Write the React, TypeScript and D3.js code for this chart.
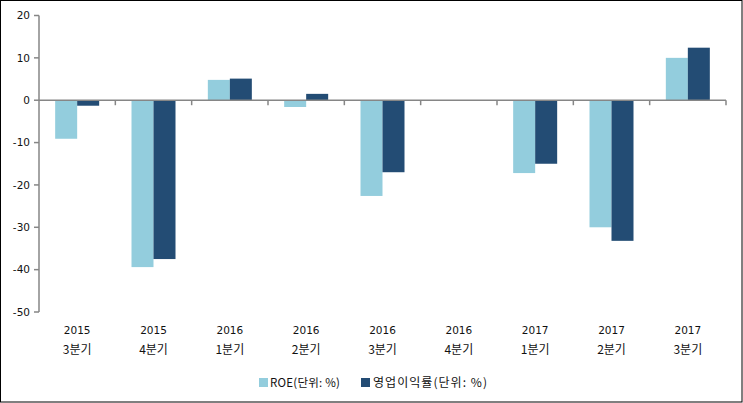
import React from "react";
import * as d3 from "d3";

const years = ["2015", "2015", "2016", "2016", "2016", "2016", "2017", "2017", "2017"];
const quarters = ["3분기", "4분기", "1분기", "2분기", "3분기", "4분기", "1분기", "2분기", "3분기"];
const roe = [-9.1, -39.4, 4.8, -1.6, -22.6, 0, -17.2, -30.0, 10.0];
const opMargin = [-1.3, -37.5, 5.1, 1.5, -17.0, 0, -15.0, -33.2, 12.4];
const yTicks = [20, 10, 0, -10, -20, -30, -40, -50];
const seriesNames = ["ROE(단위: %)", "영업이익률(단위: %)"];
const colors = ["#93CDDD", "#234C74"];

const W = 743;
const H = 403;
const left = 39;
const right = 726;
const top = 15.5;
const bottom = 312;

export default function App() {
  const cats = years.map((_, i) => String(i));
  const x = d3.scaleBand<string>().domain(cats).range([left, right]).paddingInner(0).paddingOuter(0);
  const y = d3.scaleLinear().domain([-50, 20]).range([bottom, top]);
  const barW = 22;
  const series = [roe, opMargin];
  const axisColor = "#868686";
  const numFont = "'DejaVu Sans', Verdana, sans-serif";
  const krFont = "'Noto Sans CJK KR', 'DejaVu Sans', sans-serif";
  const y0 = y(0);

  return (
    <svg width={W} height={H} style={{ position: "absolute", left: 0, top: 0 }}>
      <rect x={0.5} y={0.5} width={W - 1.5} height={H - 1.5} fill="#fff" stroke="#000" strokeWidth={1} />
      {series.map((vals, s) =>
        vals.map((v, i) => {
          const cx = (x(cats[i]) as number) + x.bandwidth() / 2;
          const bx = cx - barW + s * barW;
          const yy = Math.min(y(v), y0);
          const h = Math.abs(y(v) - y0);
          return <rect key={`${s}-${i}`} x={bx} y={yy} width={barW} height={h} fill={colors[s]} />;
        })
      )}
      {/* y axis */}
      <line x1={left} x2={left} y1={y(20)} y2={y(-50)} stroke={axisColor} strokeWidth={1.5} />
      {yTicks.map((t) => (
        <g key={t}>
          <line x1={left - 5} x2={left} y1={y(t)} y2={y(t)} stroke={axisColor} strokeWidth={1.5} />
          <text x={left - 9} y={y(t)} dy="0.35em" textAnchor="end" fontFamily={numFont} fontWeight="normal" fontSize={10.5} fill="#111">
            {t}
          </text>
        </g>
      ))}
      {/* x axis at zero */}
      <line x1={left} x2={right} y1={y0} y2={y0} stroke={axisColor} strokeWidth={1.5} />
      {cats.map((c) => {
        const tx = (x(c) as number) + x.bandwidth();
        return <line key={c} x1={tx} x2={tx} y1={y0} y2={y0 + 5} stroke={axisColor} strokeWidth={1.5} />;
      })}
      {cats.map((c, i) => {
        const cx = (x(c) as number) + x.bandwidth() / 2;
        return (
          <g key={"l" + c}>
            <text x={cx} y={330} dy="0.35em" textAnchor="middle" fontFamily={numFont} fontWeight="normal" fontSize={10.5} fill="#111">
              {years[i]}
            </text>
            <text x={cx} y={350} dy="0.35em" textAnchor="middle" fontFamily={krFont} fontSize={12} fill="#111">
              {quarters[i]}
            </text>
          </g>
        );
      })}
      {/* legend */}
      <rect x={259} y={378} width={9} height={9} fill={colors[0]} />
      <text x={270} y={382.5} dy="0.35em" fontFamily={krFont} fontSize={11.5} fill="#111" textLength={70} lengthAdjust="spacing">
        {seriesNames[0]}
      </text>
      <rect x={361} y={378} width={9} height={9} fill={colors[1]} />
      <text x={373} y={382.5} dy="0.35em" fontFamily={krFont} fontSize={12} fill="#111" textLength={114} lengthAdjust="spacing">
        {seriesNames[1]}
      </text>
    </svg>
  );
}
